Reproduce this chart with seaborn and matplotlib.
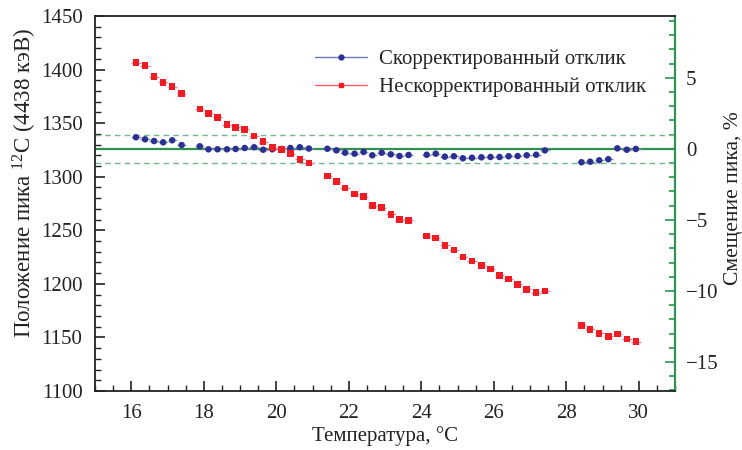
import numpy as np
import pandas as pd
import matplotlib
matplotlib.use("Agg")
import matplotlib.pyplot as plt
import seaborn as sns
from matplotlib.lines import Line2D
from matplotlib.ticker import MultipleLocator

# Temperature of each measurement, °C
temperature = [16.13, 16.38, 16.63, 16.88, 17.13, 17.39,
               17.89, 18.13, 18.38, 18.64, 18.88, 19.13, 19.39, 19.64, 19.89,
               20.14, 20.39, 20.65, 20.90,
               21.41, 21.66, 21.90, 22.16, 22.41, 22.65, 22.91, 23.16, 23.40, 23.65,
               24.15, 24.40, 24.65, 24.90, 25.15, 25.40, 25.66, 25.91, 26.16, 26.41,
               26.66, 26.91, 27.17, 27.41,
               28.42, 28.66, 28.91, 29.16, 29.41, 29.67, 29.92]

# 12C 4438 keV peak position, channels
corrected = [1336.8, 1334.9, 1333.3, 1332.1, 1334.0, 1329.6,
             1328.4, 1325.6, 1325.6, 1325.6, 1325.9, 1326.8, 1327.5, 1325.2, 1325.6,
             1325.9, 1326.8, 1327.5, 1326.3,
             1326.1, 1324.6, 1322.4, 1321.5, 1323.1, 1320.0, 1322.4, 1320.9, 1319.3, 1320.3,
             1320.5, 1321.5, 1318.7, 1319.1, 1317.2, 1317.7, 1318.1, 1318.4, 1318.4, 1319.1,
             1319.3, 1320.0, 1320.5, 1324.6,
             1313.5, 1314.0, 1315.3, 1316.3, 1326.5, 1325.2, 1325.9]

uncorrected = [1406.4, 1403.6, 1393.3, 1388.1, 1384.0, 1377.5,
               1363.2, 1359.2, 1355.5, 1348.5, 1346.1, 1344.3, 1338.0, 1332.7, 1327.1,
               1325.6, 1321.5, 1316.3, 1312.8,
               1300.7, 1295.3, 1289.6, 1284.0, 1281.3, 1272.9, 1271.1, 1264.9, 1259.9, 1259.3,
               1244.7, 1242.8, 1236.0, 1231.6, 1225.1, 1221.3, 1217.3, 1213.9, 1208.0, 1204.5,
               1199.6, 1194.9, 1191.7, 1193.3,
               1161.3, 1157.6, 1153.9, 1151.0, 1153.2, 1148.5, 1146.0]

reference_peak = 1326.0          # position taken as 0 % shift
band_pct = 1.0                   # ±1 % band

labels = ["Скорректированный отклик", "Нескорректированный отклик"]

BLUE = "#2b3192"
RED = "#ee1c25"
GREEN = "#2e9150"
GREEN_LIGHT = "#6fb98a"

sns.set_theme(style="ticks")
plt.rcParams["font.family"] = ["Liberation Serif", "DejaVu Serif"]
plt.rcParams["mathtext.fontset"] = "custom"
plt.rcParams["mathtext.rm"] = "Liberation Serif"
plt.rcParams["mathtext.it"] = "Liberation Serif:italic"

df = pd.DataFrame({"T": temperature * 2,
                   "peak": corrected + uncorrected,
                   "series": [labels[0]] * len(corrected) + [labels[1]] * len(uncorrected)})

fig = plt.figure(figsize=(7.42, 4.5), dpi=100)
ax = fig.add_axes([95 / 742, 1 - 391 / 450, 580 / 742, 375 / 450])

# reference line and ±1 % band
ax.axhline(reference_peak, color=GREEN, lw=1.6, zorder=1)
for s in (-1, 1):
    ax.axhline(reference_peak * (1 + s * band_pct / 100), color=GREEN_LIGHT,
               lw=1.0, ls=(0, (4, 3)), zorder=1)

# small error crosses behind the markers
ax.errorbar(temperature, corrected, xerr=0.13, yerr=1.2, fmt="none",
            ecolor="#8a8fd0", elinewidth=1.0, zorder=2)
ax.errorbar(temperature, uncorrected, xerr=0.13, yerr=1.5, fmt="none",
            ecolor="#f5878c", elinewidth=1.0, zorder=2)

sns.scatterplot(data=df, x="T", y="peak", hue="series", style="series",
                palette={labels[0]: BLUE, labels[1]: RED},
                markers={labels[0]: "o", labels[1]: "s"},
                s=22, linewidth=0, legend=False, ax=ax, zorder=3)

ax.set_xlim(15, 31)
ax.set_ylim(1100, 1450)
ax.xaxis.set_minor_locator(MultipleLocator(0.5))
ax.yaxis.set_major_locator(MultipleLocator(50))
ax.yaxis.set_minor_locator(MultipleLocator(10))
ax.set_xticks(range(16, 31, 2))

ax.tick_params(axis="both", which="both", direction="in", colors="#222222",
               labelsize=15, top=False, right=False)
ax.tick_params(axis="both", which="major", length=7, width=1.2)
ax.tick_params(axis="both", which="minor", length=4, width=1.0)
ax.tick_params(axis="y", pad=9)
ax.tick_params(axis="x", pad=9)

for side in ("left", "bottom", "top"):
    ax.spines[side].set_color("#222222")
    ax.spines[side].set_linewidth(1.3)
ax.spines["right"].set_color(GREEN)
ax.spines["right"].set_linewidth(1.5)

ax.set_xlabel("Температура, °C", fontsize=15, color="#222222")
ax.set_ylabel("Положение пика $^{12}$C (4438 кэВ)", fontsize=16.5, color="#222222")
ax.yaxis.set_label_coords(-0.097, 0.555)
ax.xaxis.set_label_coords(0.5, -0.093)

# secondary axis: shift relative to the reference position, %
to_pct = lambda y: (np.asarray(y) - reference_peak) / reference_peak * 100
from_pct = lambda p: reference_peak * (1 + np.asarray(p) / 100)
sec = ax.secondary_yaxis("right", functions=(to_pct, from_pct))
sec.yaxis.set_major_locator(MultipleLocator(5))
sec.yaxis.set_minor_locator(MultipleLocator(1))
sec.tick_params(axis="y", which="both", direction="in", color=GREEN,
                labelcolor="#222222", labelsize=15, pad=8)
sec.tick_params(axis="y", which="major", length=7, width=1.2)
sec.tick_params(axis="y", which="minor", length=4, width=1.2)
sec.spines["right"].set_color(GREEN)
sec.spines["right"].set_linewidth(1.5)
sec.set_ylabel("Смещение пика, %", fontsize=15.5, color="#222222")
sec.yaxis.set_label_coords(1.084, 0.515, transform=ax.transAxes)

handles = [Line2D([], [], color="#7076c0", lw=1.0, marker="o", markersize=3.5,
                  markerfacecolor=BLUE, markeredgecolor=BLUE),
           Line2D([], [], color="#f4606a", lw=1.0, marker="s", markersize=3.5,
                  markerfacecolor=RED, markeredgecolor=RED)]
ax.legend(handles, labels, loc="upper left", bbox_to_anchor=(0.38, 0.91),
          frameon=False, fontsize=15, handlelength=2.5, handletextpad=0.55,
          labelspacing=0.4, borderaxespad=0, borderpad=0)

fig.savefig("out.png", dpi=100)
